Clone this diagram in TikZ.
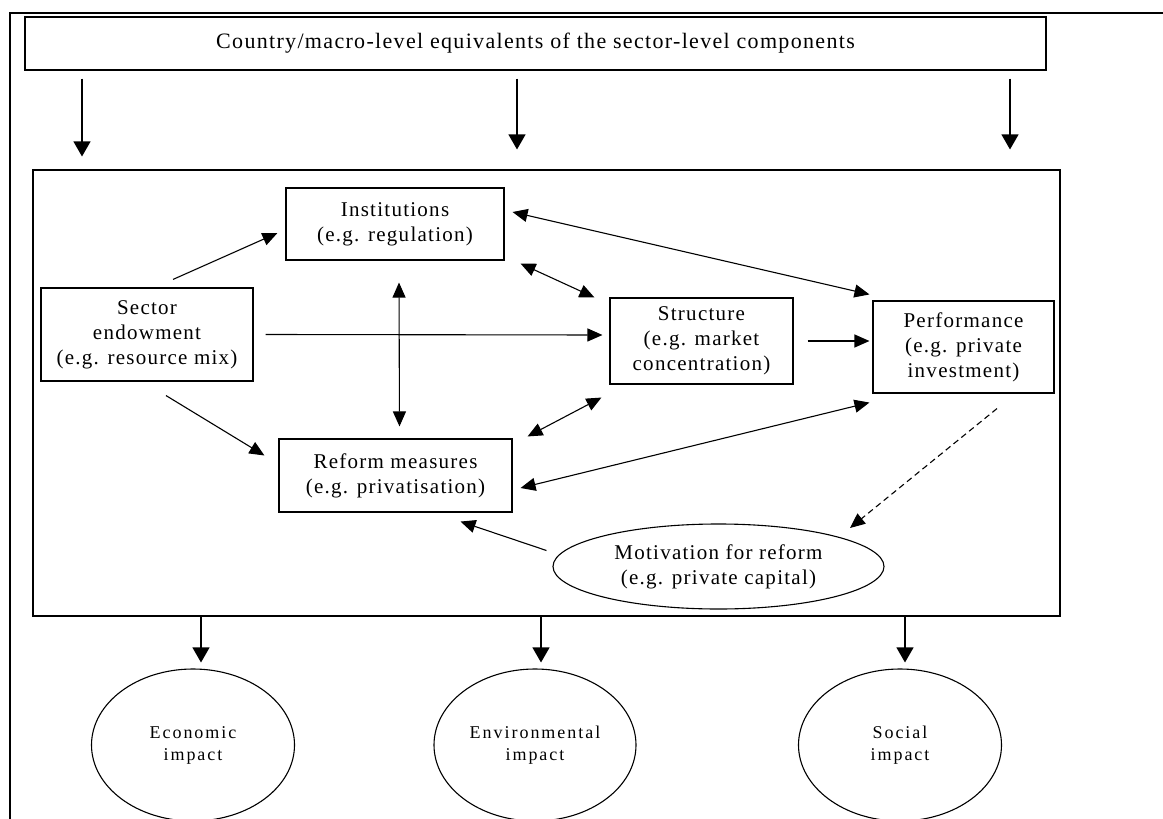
\documentclass[tikz,border=0pt]{standalone}
\usepackage{fontspec}
\setmainfont{Liberation Serif}[LetterSpace=6]
\usetikzlibrary{arrows.meta,shapes.geometric}

\begin{document}
\begin{tikzpicture}[
    x=1pt, y=-1pt,
    box/.style={rectangle,draw,line width=1.1pt,align=center,inner sep=0pt,
      font=\fontsize{21}{25}\selectfont},
    oval/.style={ellipse,draw,line width=1.1pt,align=center,inner sep=0pt,
      font=\fontsize{18}{22}\selectfont\addfontfeatures{LetterSpace=11}},
    arr/.style={line width=1.1pt,-{Triangle[length=15pt,width=13pt]}},
    dblarr/.style={line width=1.1pt,{Triangle[length=15pt,width=13pt]}-{Triangle[length=15pt,width=13pt]}},
    bigarr/.style={line width=1.1pt,-{Triangle[length=15pt,width=17pt]}}
  ]
  \useasboundingbox (0,0) rectangle (1163,819);
  \draw[line width=2.2pt] (10,819) -- (10,13) -- (1163,13);

  % boxes
  \node[box, font=\fontsize{22}{25}\selectfont, minimum width=1021pt, minimum height=53pt] (top) at (535.5,43.5)
    {Country/macro-level equivalents of the sector-level components};
  \node[box, minimum width=1027pt, minimum height=446pt] (main) at (546.5,393) {};
  \node[box, minimum width=218pt, minimum height=72pt] (inst) at (395,224)
    {Institutions\\(e.g. regulation)};
  \node[box, minimum width=212pt, minimum height=93pt] (sector) at (147,334.5)
    {Sector\\endowment\\(e.g. resource mix)};
  \node[box, minimum width=183pt, minimum height=86pt] (struct) at (701.5,341)
    {Structure\\(e.g. market\\concentration)};
  \node[box, minimum width=181pt, minimum height=92pt] (perf) at (963.5,347)
    {Performance\\(e.g. private\\investment)};
  \node[box, minimum width=233pt, minimum height=73pt] (reform) at (395.5,475.5)
    {Reform measures\\(e.g. privatisation)};
  \node[oval, font=\fontsize{21}{25}\selectfont, minimum width=331pt, minimum height=85pt] (motiv) at (718.5,566.5)
    {Motivation for reform\\(e.g. private capital)};

  % impacts
  \node[oval, minimum width=203pt, minimum height=152pt] (econ) at (193,745) {Economic\\impact};
  \node[oval, minimum width=202pt, minimum height=152pt] (env) at (535,745) {Environmental\\impact};
  \node[oval, minimum width=203pt, minimum height=152pt] (soc) at (900,745) {Social\\impact};

  \coordinate (c1) at (82,0);
  \coordinate (c2) at (517,0);
  \coordinate (c3) at (1010,0);
  \coordinate (d1) at (201,0);
  \coordinate (d2) at (541,0);
  \coordinate (d3) at (905,0);

  \draw[bigarr,shorten <=8pt,shorten >=13pt] (top.south -| c1) -- (main.north -| c1);
  \draw[bigarr,shorten <=8pt,shorten >=20pt] (top.south -| c2) -- (main.north -| c2);
  \draw[bigarr,shorten <=8pt,shorten >=20pt] (top.south -| c3) -- (main.north -| c3);

  \draw[bigarr,shorten >=6pt] (main.south -| d1) -- (econ.north -| d1);
  \draw[bigarr,shorten >=6pt] (main.south -| d2) -- (env.north -| d2);
  \draw[bigarr,shorten >=6pt] (main.south -| d3) -- (soc.north -| d3);

  % links inside
  \draw[arr] ([xshift=26pt,yshift=8pt]sector.north) -- ([xshift=-8pt,yshift=-9pt]inst.west);
  \draw[arr] ([xshift=12pt]sector.east) -- ([xshift=-7pt,yshift=6pt]struct.west);
  \draw[arr] ([xshift=19pt,yshift=-14pt]sector.south) -- ([xshift=-14pt,yshift=20pt]reform.west);
  \draw[dblarr] ([xshift=4pt,yshift=-22pt]inst.south) -- ([xshift=4pt,yshift=12pt]reform.north);
  \draw[dblarr] ([xshift=16pt,yshift=-3pt]inst.south east) -- ([xshift=-15pt]struct.north west);
  \draw[dblarr] ([xshift=8pt,yshift=12pt]inst.east) -- ([xshift=-3pt,yshift=6pt]perf.north west);
  \draw[arr] ([xshift=14pt]struct.east) -- ([xshift=-3pt]struct.east -| perf.west);
  \draw[dblarr] ([xshift=15pt,yshift=2pt]reform.north east) -- ([xshift=-8pt,yshift=-13pt]struct.south west);
  \draw[dblarr] ([xshift=8pt,yshift=-12.5pt]reform.east) -- ([xshift=-3pt,yshift=-9pt]perf.south west);
  \draw[arr,dash pattern=on 6pt off 4pt] ([xshift=33.5pt,yshift=-15pt]perf.south) -- ([xshift=131.5pt,yshift=38.5pt]motiv.center);
  \draw[arr] ([xshift=-6pt,yshift=16pt]motiv.west) -- ([xshift=65pt,yshift=-9pt]reform.south);
\end{tikzpicture}
\end{document}
